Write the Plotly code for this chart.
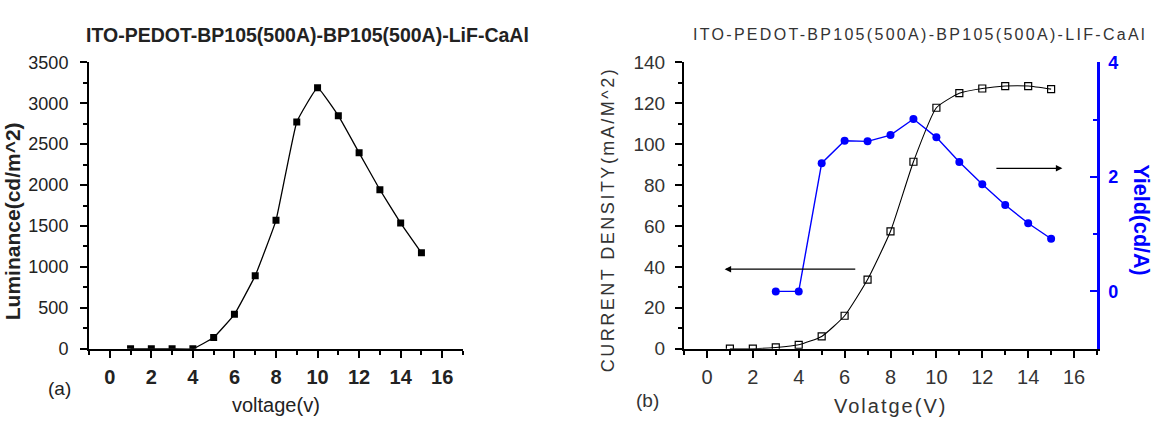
import plotly.graph_objects as go

# ---- data ----
voltage_a = [1, 2, 3, 4, 5, 6, 7, 8, 9, 10, 11, 12, 13, 14, 15]
luminance = [0, 0, 0, 0, 137, 420, 893, 1569, 2772, 3188, 2848, 2394, 1943, 1535, 1172]

voltage_b = [1, 2, 3, 4, 5, 6, 7, 8, 9, 10, 11, 12, 13, 14, 15]
current_density = [0, 0, 0.6, 1.9, 6.0, 16.1, 33.8, 57.4, 91.4, 117.8, 124.9, 127.2, 128.4, 128.4, 126.9]

voltage_yield = [3, 4, 5, 6, 7, 8, 9, 10, 11, 12, 13, 14, 15]
yield_cd_a = [0, 0, 2.24, 2.63, 2.62, 2.73, 3.01, 2.69, 2.26, 1.87, 1.51, 1.19, 0.92]

title_a = "ITO-PEDOT-BP105(500A)-BP105(500A)-LiF-CaAl"
title_b = "ITO-PEDOT-BP105(500A)-BP105(500A)-LIF-CaAl"

W, H = 1168, 432
FONT = "Liberation Sans, Arial, sans-serif"
BLUE = "#0000ff"


def px(x):
    return x / W


def py(y):
    return 1 - y / H


xa_dom = [px(89), px(463)]
xb_dom = [px(684), px(1097)]
y_dom = [py(356), py(55)]

fig = go.Figure()

fig.add_trace(go.Scatter(
    x=voltage_a, y=luminance, xaxis="x", yaxis="y", mode="lines+markers",
    line=dict(color="black", width=1.3, shape="spline", smoothing=0.3),
    marker=dict(symbol="square", size=7, color="black"), showlegend=False))

fig.add_trace(go.Scatter(
    x=voltage_b, y=current_density, xaxis="x2", yaxis="y2", mode="lines+markers",
    line=dict(color="black", width=1.1, shape="spline", smoothing=0.5),
    marker=dict(symbol="square-open", size=7, color="black", line=dict(width=1.2)),
    showlegend=False))

fig.add_trace(go.Scatter(
    x=voltage_yield, y=yield_cd_a, xaxis="x2", yaxis="y4", mode="lines+markers",
    line=dict(color=BLUE, width=1.4),
    marker=dict(symbol="circle", size=8, color=BLUE), showlegend=False))

common = dict(showgrid=False, zeroline=False, showline=True, linecolor="black",
              linewidth=2, tickcolor="black", tickwidth=1.5)
minor_out = lambda d: dict(dtick=d, ticks="outside", ticklen=4, tickcolor="black", tickwidth=1.5)
minor_in = lambda d: dict(dtick=d, ticks="inside", ticklen=4, tickcolor="black", tickwidth=1.5)

tick_a_y = dict(family=FONT, size=18, color="#222")
tick_a_x = dict(family=FONT, size=20, color="#222", weight="bold")
tick_b_y = dict(family=FONT, size=19, color="#333")
tick_b_x = dict(family=FONT, size=20, color="#333")

fig.update_layout(
    width=W, height=H, margin=dict(l=0, r=0, t=0, b=0),
    paper_bgcolor="white", plot_bgcolor="white",
    # panel (a)
    xaxis=dict(domain=xa_dom, anchor="y", range=[-1, 17], tick0=0, dtick=2,
               ticks="outside", ticklen=7, tickfont=tick_a_x, ticklabelstandoff=2,
               minor=minor_out(1), **common),
    yaxis=dict(domain=y_dom, anchor="x", range=[0, 3500], tick0=0, dtick=500,
               ticks="outside", ticklen=7, tickfont=tick_a_y, ticklabelstandoff=8,
               minor=minor_out(250), **common),
    xaxis3=dict(overlaying="x", anchor="y", side="top", range=[-1, 17], tick0=0, dtick=2,
                ticks="inside", ticklen=7, showticklabels=False, minor=minor_in(1), **common),
    yaxis3=dict(overlaying="y", anchor="x", side="right", range=[0, 3500], tick0=0, dtick=500,
                ticks="inside", ticklen=7, showticklabels=False, minor=minor_in(250), **common),
    # panel (b)
    xaxis2=dict(domain=xb_dom, anchor="y2", range=[-1, 17], tick0=0, dtick=2,
                ticks="outside", ticklen=7, tickfont=tick_b_x, ticklabelstandoff=2,
                minor=minor_out(1), **common),
    yaxis2=dict(domain=y_dom, anchor="x2", range=[0, 140], tick0=0, dtick=20,
                ticks="outside", ticklen=7, tickfont=tick_b_y, ticklabelstandoff=6,
                minor=minor_out(10), **common),
    xaxis4=dict(overlaying="x2", anchor="y2", side="top", range=[-1, 17], tick0=0, dtick=2,
                ticks="inside", ticklen=7, showticklabels=False, minor=minor_in(1), **common),
    yaxis4=dict(overlaying="y2", anchor="x2", side="right", range=[-1, 4], tick0=0, dtick=2,
                ticks="inside", ticklen=7, showgrid=False, zeroline=False, showline=True,
                linecolor=BLUE, linewidth=2.5, tickcolor=BLUE, tickwidth=1.5,
                ticklabelstandoff=5,
                tickfont=dict(family=FONT, size=18, color=BLUE, weight="bold"),
                minor=dict(dtick=1, ticks="inside", ticklen=4, tickcolor=BLUE, tickwidth=1.5)),
)

ann = []


def text(t, x, y, size, bold=False, color="#222", angle=0, spacing=None):
    s = t
    if spacing:
        s = f'<span style="letter-spacing:{spacing}px">{t}</span>'
    ann.append(dict(text=s, x=px(x), y=py(y), xref="paper", yref="paper",
                    showarrow=False, textangle=angle, xanchor="center", yanchor="middle",
                    font=dict(family=FONT, size=size, color=color,
                              weight="bold" if bold else "normal")))


text(title_a, 307, 26, 19.5, bold=True)
text("Luminance(cd/m^2)", 12, 222, 21, bold=True, angle=-90)
text("voltage(v)", 276, 415, 20)
text("(a)", 59, 398, 19)

text(title_b, 920, 26, 16, color="#333", spacing=2.3)
text("CURRENT DENSITY(mA/M^2)", 608, 220, 18, color="#333", angle=-90, spacing=2.5)
text("Volatge(V)", 890, 416, 20, color="#333", spacing=2)
text("(b)", 647, 410, 19, color="#333")
text("Yield(cd/A)", 1141, 221, 21.5, bold=True, color=BLUE, angle=90)

# arrows in panel (b)
ann.append(dict(x=0.77, y=38.9, ax=6.53, ay=38.9, xref="x2", yref="y2", axref="x2", ayref="y2",
                text="", showarrow=True, arrowhead=2, arrowsize=1, arrowwidth=1.3, arrowcolor="black"))
ann.append(dict(x=15.49, y=88.2, ax=12.55, ay=88.2, xref="x2", yref="y2", axref="x2", ayref="y2",
                text="", showarrow=True, arrowhead=2, arrowsize=1, arrowwidth=1.3, arrowcolor="black"))

fig.update_layout(annotations=ann)

fig.write_html("out.html")
